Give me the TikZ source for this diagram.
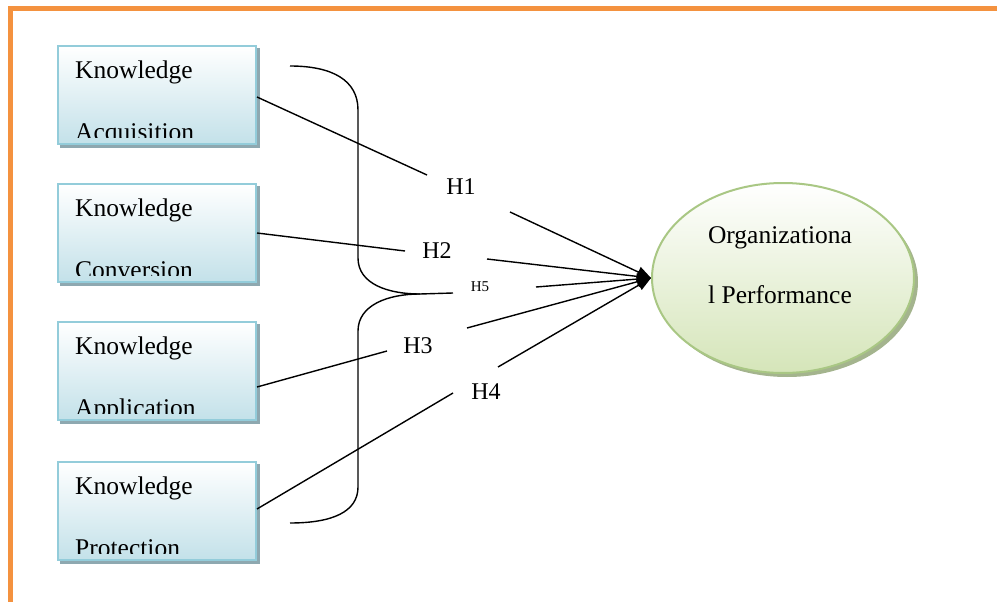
\documentclass[tikz,border=0pt]{standalone}
\usepackage{fontspec}
\setmainfont{Liberation Serif}
\usetikzlibrary{arrows.meta,shapes.geometric}
\definecolor{orangeb}{HTML}{F4923F}
\definecolor{boxedge}{HTML}{93CCDA}
\definecolor{boxbot}{HTML}{C3E1E9}
\definecolor{boxshadow}{HTML}{8EA8B0}
\definecolor{elledge}{HTML}{A9C784}
\definecolor{ellbot}{HTML}{D5E5B9}
\definecolor{ellshadow}{HTML}{A4B48E}
\begin{document}
\begin{tikzpicture}[x=1pt,y=-1pt,
  kbox/.style={rectangle, draw=boxedge, line width=2pt, top color=white, bottom color=boxbot, minimum width=198pt, minimum height=98pt, inner sep=0pt},
  ktext/.style={anchor=base west, inner sep=0pt, font=\fontsize{25.5}{25.5}\selectfont},
  otext/.style={anchor=base, inner sep=0pt, font=\fontsize{25.5}{25.5}\selectfont},
  hlab/.style={inner sep=0pt, font=\fontsize{24}{24}\selectfont},
  hsmall/.style={inner sep=0pt, font=\fontsize{15}{15}\selectfont},
  conn/.style={line width=1.4pt},
  arr/.style={conn, -{Triangle[length=14pt,width=11pt]}}
]
\useasboundingbox (0,0) rectangle (997,602);
\draw[orangeb, line width=5pt] (10.5,602) -- (10.5,8.5) -- (997,8.5);

% boxes
\foreach \n/\t/\w in {1/45/Acquisition, 2/183/Conversion, 3/321/Application, 4/461/Protection} {
  \fill[boxshadow] (60,\t+3) rectangle (260,\t+103);
  \node[kbox] (b\n) at (157,\t+50) {};
  \begin{scope}
    \clip (58,\t+2) rectangle (256,\t+92);
    \node[ktext] (k\n) at (75,\t+33) {Knowledge};
    \node[ktext] (w\n) at (75,\t+95) {\w};
  \end{scope}
}

% ellipse
\fill[ellshadow] (787,282) ellipse [x radius=131, y radius=95];
\node[ellipse, draw=elledge, line width=2pt, top color=white, bottom color=ellbot, minimum width=262pt, minimum height=190pt, inner sep=0pt] (op) at (783,278) {};
\node[otext] (o1) at (780,243) {Organizationa};
\node[otext] (o2) at (780,303) {l Performance};
\coordinate (tip) at (op.west);

% labels
\node[hlab] (h1) at (461,187) {H1};
\node[hlab] (h2) at (437,251) {H2};
\node[hlab] (h3) at (418,346) {H3};
\node[hlab] (h4) at (486,392) {H4};
\node[hsmall] (h5) at (480,287) {H5};

% bracket
\coordinate (br) at (420,294);
\draw[conn] (290,66) .. controls (332,66) and (358,80) .. (358,110) -- (358,258)
  .. controls (358,284) and (388,294) .. (br);
\draw[conn] (br) .. controls (388,294) and (358,305) .. (358,331) -- (358,487)
  .. controls (358,512) and (332,523) .. (290,523);

% connectors
\coordinate (a1) at (427,175); \coordinate (s1) at (510,212);
\coordinate (a2) at (405,251); \coordinate (s2) at (487,259);
\coordinate (a3) at (387,351); \coordinate (s3) at (467,328);
\coordinate (a4) at (453,393); \coordinate (s4) at (498,367);
\coordinate (a5) at (453,293); \coordinate (s5) at (536,287);

\draw[conn] ([yshift=-2pt]b1.east) -- (a1);
\draw[conn] (b2.east) -- (a2);
\draw[conn] ([yshift=-16pt]b3.east) -- (a3);
\draw[conn] ([yshift=2pt]b4.east) -- (a4);
\draw[conn] (br) -- (a5);

\draw[arr] (s1) -- (tip);
\draw[arr] (s2) -- (tip);
\draw[arr] (s5) -- (tip);
\draw[arr] (s3) -- (tip);
\draw[arr] (s4) -- (tip);
\end{tikzpicture}
\end{document}
